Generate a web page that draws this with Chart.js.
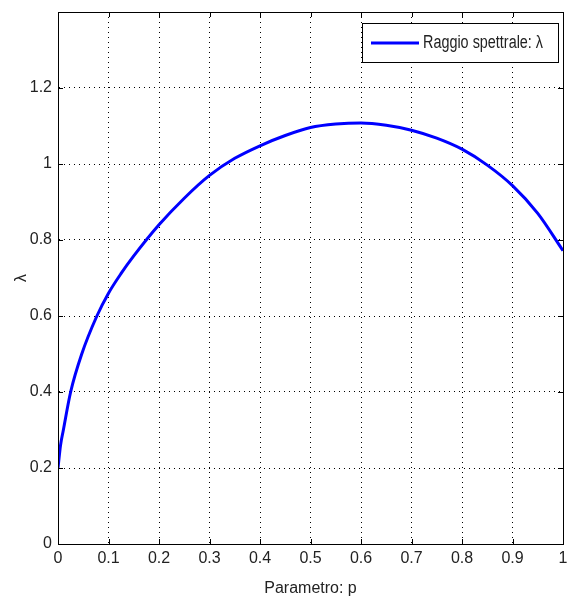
<!DOCTYPE html>
<html>
<head>
<meta charset="utf-8">
<script src="https://cdn.jsdelivr.net/npm/chart.js@4"></script>
<style>
  html, body { margin: 0; padding: 0; background: #fff; }
  #wrap { width: 568px; height: 598px; }
</style>
</head>
<body>
<div id="wrap"><canvas id="chart" width="568" height="598"></canvas></div>
<script>
// values
const pValues = [0, 0.005, 0.0106, 0.025, 0.047, 0.077, 0.1, 0.125, 0.15, 0.2, 0.25, 0.3, 0.35, 0.4, 0.45, 0.5, 0.55, 0.6, 0.65, 0.7, 0.75, 0.8, 0.85, 0.9, 0.95, 1.0];
const lambdaValues = [0.2, 0.26, 0.3, 0.4, 0.5, 0.6, 0.66, 0.712, 0.758, 0.84, 0.91, 0.97, 1.015, 1.048, 1.075, 1.096, 1.105, 1.108, 1.102, 1.089, 1.068, 1.039, 0.997, 0.943, 0.87, 0.772];
const xTicks = [0, 0.1, 0.2, 0.3, 0.4, 0.5, 0.6, 0.7, 0.8, 0.9, 1];
const yTicks = [0, 0.2, 0.4, 0.6, 0.8, 1, 1.2, 1.4];
const seriesLabel = 'Raggio spettrale: \u03bb';

const FONT = '"Liberation Sans", Arial, sans-serif';
const TXT = '#222';

// box, inward tick marks and legend like a matlab figure
const matlabFrame = {
    id: 'matlabFrame',
    afterDraw(chart) {
        const ctx = chart.ctx;
        const a = chart.chartArea;
        const xs = chart.scales.x, ys = chart.scales.y;
        ctx.save();
        ctx.strokeStyle = '#000';
        ctx.lineWidth = 1;
        ctx.strokeRect(a.left + 0.5, a.top + 0.5, a.right - a.left, a.bottom - a.top);
        ctx.beginPath();
        xTicks.forEach(v => {
            const px = Math.round(xs.getPixelForValue(v)) + 0.5;
            ctx.moveTo(px, a.bottom); ctx.lineTo(px, a.bottom - 5);
            ctx.moveTo(px, a.top); ctx.lineTo(px, a.top + 5);
        });
        yTicks.forEach(v => {
            const py = Math.round(ys.getPixelForValue(v)) + 0.5;
            ctx.moveTo(a.left, py); ctx.lineTo(a.left + 5, py);
            ctx.moveTo(a.right, py); ctx.lineTo(a.right - 5, py);
        });
        ctx.stroke();

        // legend
        const bx = 362, by = 23, bw = 196, bh = 39;
        ctx.fillStyle = '#fff';
        ctx.fillRect(bx, by, bw, bh);
        ctx.strokeRect(bx + 0.5, by + 0.5, bw, bh);
        ctx.strokeStyle = '#0000ff';
        ctx.lineWidth = 3;
        ctx.beginPath();
        ctx.moveTo(371, by + bh / 2 + 0.5);
        ctx.lineTo(419, by + bh / 2 + 0.5);
        ctx.stroke();
        ctx.fillStyle = TXT;
        ctx.font = '18px ' + FONT;
        ctx.textBaseline = 'middle';
        ctx.textAlign = 'left';
        ctx.translate(423, by + bh / 2 + 1);
        ctx.scale(0.8, 1);
        ctx.fillText(chart.data.datasets[0].label, 0, 0);
        ctx.restore();
    }
};

new Chart(document.getElementById('chart'), {
    type: 'line',
    data: {
        datasets: [{
            label: seriesLabel,
            data: pValues.map((p, i) => ({ x: p, y: lambdaValues[i] })),
            borderColor: '#0000ff',
            borderWidth: 3,
            pointRadius: 0,
            fill: false,
            cubicInterpolationMode: 'monotone'
        }]
    },
    options: {
        responsive: false,
        animation: false,
        layout: { padding: { top: 12, right: 5, left: 0, bottom: 0 } },
        plugins: {
            legend: { display: false },
            tooltip: { enabled: false }
        },
        scales: {
            x: {
                type: 'linear',
                min: 0,
                max: 1,
                afterBuildTicks: s => { s.ticks = xTicks.map(v => ({ value: v })); },
                afterFit: s => { s.height = 54; s.paddingLeft = 0; s.paddingRight = 0; },
                ticks: {
                    color: TXT,
                    font: { family: FONT, size: 16 },
                    padding: 5,
                    maxRotation: 0,
                    callback: v => String(v)
                },
                grid: {
                    color: '#000',
                    lineWidth: 1,
                    drawTicks: false
                },
                border: { display: true, color: '#000', dash: [1, 4] },
                title: {
                    display: true,
                    text: 'Parametro: p',
                    color: TXT,
                    font: { family: FONT, size: 16 },
                    padding: { top: 0, bottom: 0 }
                }
            },
            y: {
                min: 0,
                max: 1.4,
                afterBuildTicks: s => { s.ticks = yTicks.map(v => ({ value: v })); },
                afterFit: s => { s.width = 58; s.paddingTop = 0; s.paddingBottom = 0; },
                ticks: {
                    color: TXT,
                    font: { family: FONT, size: 16 },
                    padding: 6,
                    callback: v => (v > 1.3 ? '' : String(v))
                },
                grid: {
                    color: '#000',
                    lineWidth: 1,
                    drawTicks: false
                },
                border: { display: true, color: '#000', dash: [1, 4] },
                title: {
                    display: true,
                    text: '\u03bb',
                    color: TXT,
                    font: { family: FONT, size: 16 },
                    padding: { top: 12, bottom: 0 }
                }
            }
        }
    },
    plugins: [matlabFrame]
});
</script>
</body>
</html>
